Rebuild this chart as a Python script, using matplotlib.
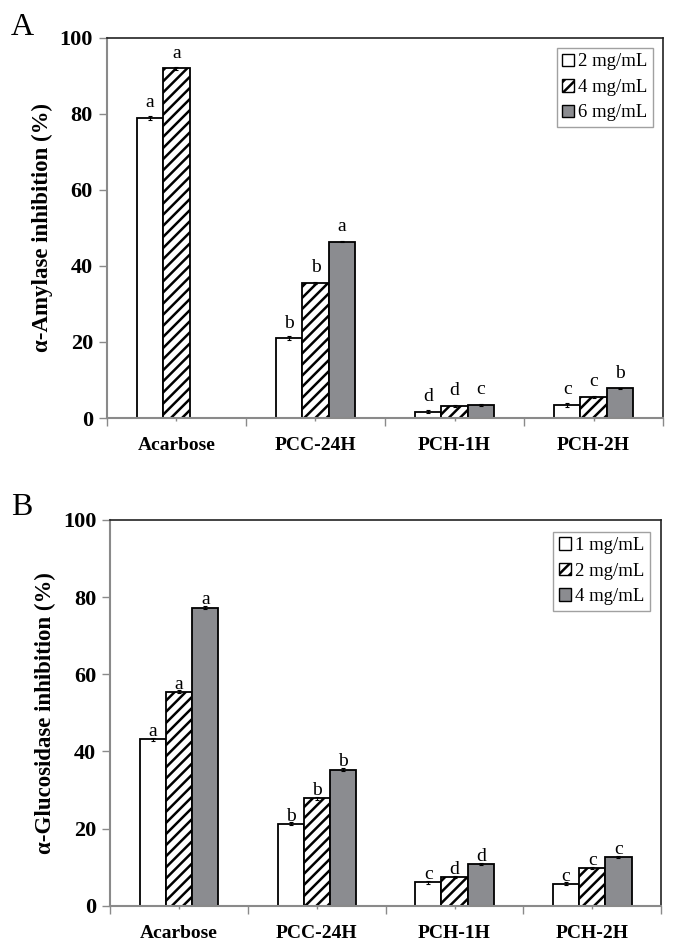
import numpy as np
import matplotlib
matplotlib.use('Agg')
import matplotlib.pyplot as plt
from matplotlib.patches import Patch

plt.rcParams['font.family'] = ['Liberation Serif', 'DejaVu Serif']
plt.rcParams['hatch.linewidth'] = 1.8
plt.rcParams['hatch.color'] = 'black'

samples = ['Acarbose', 'PCC-24H', 'PCH-1H', 'PCH-2H']

# panel A: alpha-amylase
amy_labels = ['2 mg/mL', '4 mg/mL', '6 mg/mL']
amy_2 = [79.0, 21.0, 1.7, 3.5]
amy_4 = [92.0, 35.5, 3.2, 5.6]
amy_6 = [np.nan, 46.4, 3.4, 7.8]
amy_err = [0.5, 0.3, 0.2]
amy_let_2 = ['a', 'b', 'd', 'c']
amy_let_4 = ['a', 'b', 'd', 'c']
amy_let_6 = ['', 'a', 'c', 'b']

# panel B: alpha-glucosidase
glu_labels = ['1 mg/mL', '2 mg/mL', '4 mg/mL']
glu_1 = [43.1, 21.2, 6.1, 5.7]
glu_2 = [55.5, 27.8, 7.4, 9.7]
glu_4 = [77.3, 35.3, 10.8, 12.7]
glu_err = [0.4, 0.3, 0.3]
glu_let_1 = ['a', 'b', 'c', 'c']
glu_let_2 = ['a', 'b', 'd', 'c']
glu_let_4 = ['a', 'b', 'd', 'c']

gray = '#8b8c90'
axgray = '#8a8a8a'
styles = [dict(color='white', hatch=None),
          dict(color='white', hatch='///'),
          dict(color=gray, hatch=None)]


def draw_panel(ax, series, errs, letters, labels, ylabel, let_off, leg_anchor):
    x = np.arange(len(samples))
    w = 0.19
    for i, (vals, err, lets) in enumerate(zip(series, errs, letters)):
        pos = x + (i - 1) * w
        st = styles[i]
        ax.bar(pos, vals, w, color=st['color'], hatch=st['hatch'],
               edgecolor='black', linewidth=1.3, zorder=2)
        ax.errorbar(pos, vals, yerr=err, fmt='none',
                    ecolor='black', elinewidth=0.8, capsize=1.5, capthick=0.8,
                    zorder=3)
        for p, v, l in zip(pos, vals, lets):
            if l and not np.isnan(v):
                ax.text(p, v + let_off, l, ha='center', va='baseline',
                        fontsize=14)
    ax.set_xlim(-0.5, len(samples) - 0.5)
    ax.set_ylim(0, 100)
    ax.set_yticks(range(0, 101, 20))
    ax.set_xticks(x)
    ax.set_xticklabels(samples, fontweight='bold', fontsize=14)
    ax.set_xticks(np.arange(-0.5, len(samples)), minor=True)
    for t in ax.get_yticklabels():
        t.set_fontweight('bold')
        t.set_fontsize(16)
    ax.tick_params(axis='y', direction='out', length=6, color=axgray,
                   width=1, pad=4)
    ax.tick_params(axis='x', which='major', direction='inout', length=4,
                   color=axgray, width=1, pad=12)
    ax.tick_params(axis='x', which='minor', direction='out', length=6,
                   color=axgray, width=1)
    ax.set_ylabel(ylabel, fontweight='bold', fontsize=16.5, labelpad=5)
    for s in ['left', 'bottom']:
        ax.spines[s].set_color(axgray)
        ax.spines[s].set_linewidth(1.5)
    for s in ['top', 'right']:
        ax.spines[s].set_color('#222222')
        ax.spines[s].set_linewidth(1.2)
    handles = [Patch(facecolor=st['color'], hatch=st['hatch'],
                     edgecolor='black', linewidth=1.0) for st in styles]
    leg = ax.legend(handles, labels, loc='upper right',
                    bbox_to_anchor=leg_anchor, borderaxespad=0,
                    fontsize=13.5, frameon=True, fancybox=False,
                    edgecolor=axgray, handlelength=0.65, handleheight=0.65,
                    handletextpad=0.2, labelspacing=0.45, borderpad=0.3)
    leg.get_frame().set_linewidth(1.0)


fig = plt.figure(figsize=(6.76, 9.47), dpi=100)
axA = fig.add_axes([0.158, 0.5586, 0.823, 0.4013])
axB = fig.add_axes([0.163, 0.0436, 0.815, 0.4073])

draw_panel(axA, [amy_2, amy_4, amy_6], amy_err,
           [amy_let_2, amy_let_4, amy_let_6],
           amy_labels, '\u03b1-Amylase inhibition (%)', 2.8, (0.982, 0.974))
draw_panel(axB, [glu_1, glu_2, glu_4], glu_err,
           [glu_let_1, glu_let_2, glu_let_4],
           glu_labels, '\u03b1-Glucosidase inhibition (%)', 0.8, (0.979, 0.970))

fig.text(0.016, 0.963, 'A', fontsize=23, ha='left', va='baseline')
fig.text(0.016, 0.456, 'B', fontsize=23, ha='left', va='baseline')

fig.savefig('out.png', dpi=100)
